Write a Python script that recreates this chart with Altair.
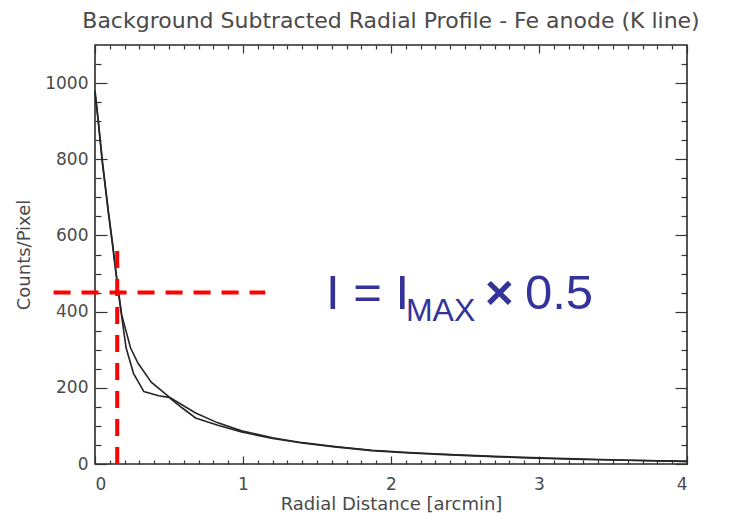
import altair as alt
import pandas as pd

# ---- data ----
x_lower = [0.0, 0.02, 0.05, 0.09, 0.12, 0.14, 0.16, 0.18, 0.21, 0.26, 0.33, 0.43, 0.50,
           0.59, 0.68, 0.83, 0.99, 1.2, 1.4, 1.62, 1.87, 2.12, 2.4, 2.7, 3.0, 3.3, 3.6, 4.0]
y_lower = [975, 905, 790, 660, 570, 505, 445, 388, 305, 238, 190, 179, 175,
           147, 121, 102, 84, 67, 55, 45, 35, 29, 24, 19, 15, 12, 10, 7]

x_upper = [0.0, 0.02, 0.05, 0.09, 0.12, 0.14, 0.16, 0.18, 0.24, 0.29, 0.38, 0.50,
           0.59, 0.68, 0.83, 0.99, 1.2, 1.4, 1.62, 1.87, 2.12, 2.4, 2.7, 3.0, 3.3, 3.6, 4.0]
y_upper = [980, 910, 795, 665, 575, 510, 450, 392, 305, 265, 215, 176,
           155, 134, 108, 87, 69, 56, 46, 36, 30, 25, 20, 16, 13, 10, 7]

x_major = [0, 1, 2, 3, 4]
x_minor = [v / 10 for v in range(0, 41) if v % 10 != 0]
y_major = [0, 200, 400, 600, 800, 1000]
y_minor = [v for v in range(50, 1100, 50) if v % 200 != 0]

# half-maximum guide lines (data units)
half_level = [450]
half_x_range = [-0.28, 1.15]
half_radius = [0.15]
half_y_range = [0, 562]

# annotation text pieces and anchor points (data units)
ann_text = ["I = I", "MAX", "\u00d7", "0.5"]
ann_x = [1.561, 2.101, 2.635, 2.905]
ann_y = [406, 376, 406, 406]
ann_size = [49, 32, 49, 49]
ann_weight = ["normal", "normal", "bold", "normal"]

TITLE = "Background Subtracted Radial Profile - Fe anode (K line)"
X_TITLE = "Radial Distance [arcmin]"
Y_TITLE = "Counts/Pixel"

X_DOMAIN = [0, 4]
Y_DOMAIN = [0, 1100]

# ---- tables ----
df = pd.concat([
    pd.DataFrame({"x": x_lower, "y": y_lower, "series": "a"}),
    pd.DataFrame({"x": x_upper, "y": y_upper, "series": "b"}),
], ignore_index=True)

hdf = pd.DataFrame({"x": [half_x_range[0]], "x2": [half_x_range[1]], "y": half_level})
vdf = pd.DataFrame({"x": half_radius, "y": [half_y_range[0]], "y2": [half_y_range[1]]})

xs = alt.Scale(domain=X_DOMAIN, nice=False, zero=False)
ys = alt.Scale(domain=Y_DOMAIN, nice=False, zero=False)

LABEL_FONT = "DejaVu Sans"
GREY = "#4a4a4a"
TICK = "#333333"

x_main_axis = alt.Axis(values=x_major, format="d", ticks=False, domain=False, grid=False,
                       labelPadding=12, labelFontSize=17, labelFont=LABEL_FONT,
                       labelColor=GREY, title=X_TITLE, titleFontSize=18,
                       titleFont=LABEL_FONT, titleFontWeight="normal", titleColor=GREY,
                       titlePadding=3, orient="bottom")
y_main_axis = alt.Axis(values=y_major, format="d", ticks=False, domain=False, grid=False,
                       labelPadding=7, labelFontSize=17, labelFont=LABEL_FONT,
                       labelColor=GREY, title=Y_TITLE, titleFontSize=18,
                       titleFont=LABEL_FONT, titleFontWeight="normal", titleColor=GREY,
                       titlePadding=11, orient="left")


def tick_axis(orient, values, size):
    return alt.Axis(orient=orient, values=values, ticks=True, tickSize=size,
                    offset=-size, labels=False, domain=False, grid=False,
                    title=None, tickColor=TICK, tickWidth=1.2)


lines = alt.Chart(df).mark_line(color="#262626", strokeWidth=1.6).encode(
    x=alt.X("x:Q", scale=xs, axis=x_main_axis),
    y=alt.Y("y:Q", scale=ys, axis=y_main_axis),
    detail="series:N",
)


def ghost(xa, ya):
    return alt.Chart(df).mark_point(opacity=0).encode(
        x=alt.X("x:Q", scale=xs, axis=xa),
        y=alt.Y("y:Q", scale=ys, axis=ya),
    )


g1 = ghost(tick_axis("top", x_major, 8), tick_axis("left", y_major, 12))
g2 = ghost(tick_axis("top", x_minor, 4), tick_axis("left", y_minor, 6))
g3 = ghost(tick_axis("bottom", x_major, 8), tick_axis("right", y_major, 12))
g4 = ghost(tick_axis("bottom", x_minor, 4), tick_axis("right", y_minor, 6))

hline = alt.Chart(hdf).mark_rule(color="#ff0000", strokeWidth=4, strokeDash=[17, 11],
                                  clip=False).encode(
    x=alt.X("x:Q", scale=xs, axis=None),
    x2="x2:Q",
    y=alt.Y("y:Q", scale=ys, axis=None),
)
vline = alt.Chart(vdf).mark_rule(color="#ff0000", strokeWidth=4, strokeDash=[17, 11],
                                  clip=False).encode(
    x=alt.X("x:Q", scale=xs, axis=None),
    y=alt.Y("y:Q", scale=ys, axis=None),
    y2="y2:Q",
)

texts = []
for t, tx, ty, sz, wt in zip(ann_text, ann_x, ann_y, ann_size, ann_weight):
    tdf = pd.DataFrame({"x": [tx], "y": [ty], "t": [t]})
    texts.append(
        alt.Chart(tdf).mark_text(align="left", baseline="alphabetic",
                                 font="Liberation Sans", fontSize=sz, fontWeight=wt,
                                 color="#333399", clip=False).encode(
            x=alt.X("x:Q", scale=xs, axis=None),
            y=alt.Y("y:Q", scale=ys, axis=None),
            text="t:N",
        )
    )

chart = alt.layer(lines, g1, g2, g3, g4, hline, vline, *texts).resolve_axis(
    x="independent", y="independent"
).properties(
    width=592,
    height=419,
    autosize=alt.AutoSizeParams(type="none"),
    padding={"left": 95, "top": 45, "right": 42, "bottom": 58},
    background="white",
    title=alt.TitleParams(TITLE, fontSize=22, font=LABEL_FONT, fontWeight="normal",
                          color=GREY, anchor="middle", offset=11),
).configure_view(
    stroke="#2a2a2a", strokeWidth=1.6
)

chart.save("out.html", embed_options={"renderer": "svg", "actions": False})
